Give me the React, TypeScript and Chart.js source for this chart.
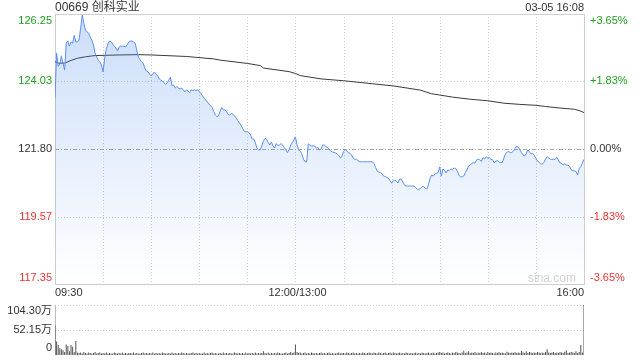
import React, { useEffect, useRef } from 'react';
import { Chart, registerables } from 'chart.js';

Chart.register(...registerables);

const FONT = '"Liberation Sans", Arial, "Noto Sans CJK SC", sans-serif';

const titleText = '00669 创科实业';
const dateText = '03-05 16:08';
const prevClose = 121.8;

const yTickValues = [126.25, 124.03, 121.8, 119.57, 117.35];
const yTickLabels = ['126.25', '124.03', '121.80', '119.57', '117.35'];
const pctTickLabels = ['+3.65%', '+1.83%', '0.00%', '-1.83%', '-3.65%'];

const timeGridMinutes = [0, 30, 60, 90, 120, 150, 180, 210, 240, 270, 300, 330];
const timeLabelMinutes = [0, 150, 330];
const timeLabels = ['09:30', '12:00/13:00', '16:00'];

const volTickValues = [104.3, 52.15, 0];
const volTickLabels = ['104.30万', '52.15万', '0'];

// price per minute (index = minutes since 09:30, lunch break removed)
const prices = [
  123.48, 124.96, 124.53, 124.6, 124.87, 124.63, 124.4, 125.29, 125.36, 125.19,
  125.33, 125.29, 125.55, 125.33, 125.33, 125.39, 125.79, 126.22, 125.95, 125.72,
  125.66, 125.62, 125.49, 125.39, 125.23, 124.96, 124.83, 124.73, 124.67, 124.57,
  124.34, 124.8, 125.1, 125.26, 125.36, 125.34, 125.26, 125.19, 125.13, 125.03,
  125.16, 125.19, 125.19, 125.19, 125.16, 125.23, 125.33, 125.36, 125.36, 125.33,
  125.29, 125.06, 124.83, 124.75, 124.67, 124.63, 124.47, 124.37, 124.34, 124.27,
  124.21, 124.27, 124.34, 124.27, 124.21, 124.11, 124.07, 124.04, 123.98, 123.93,
  123.98, 124.07, 124.17, 123.88, 123.91, 123.81, 123.86, 123.81, 123.78, 123.8,
  123.75, 123.68, 123.75, 123.71, 123.66, 123.75, 123.73, 123.75, 123.73, 123.75,
  123.69, 123.63, 123.55, 123.48, 123.42, 123.35, 123.28, 123.23, 123.17, 123.04,
  122.92, 122.87, 122.89, 123.05, 123.17, 123.09, 123.09, 123.04, 122.94, 122.92,
  122.97, 122.95, 122.89, 122.82, 122.74, 122.66, 122.59, 122.48, 122.39, 122.37,
  122.37, 122.34, 122.26, 122.13, 122.13, 122.0, 121.82, 121.77, 121.77, 121.9,
  122.06, 122.15, 122.12, 122.01, 121.93, 122.03, 121.9, 121.83, 121.98, 121.92,
  121.93, 121.98, 121.93, 121.85, 121.77, 121.68, 121.78, 121.93, 122.01, 122.1,
  122.2, 121.93, 121.77, 121.73, 121.64, 121.47, 121.38, 121.38, 121.97, 121.93,
  121.9, 121.9, 121.9, 121.83, 121.85, 121.77, 121.8, 121.93, 121.93, 121.88,
  121.85, 121.8, 121.73, 121.7, 121.69, 121.67, 121.64, 121.59, 121.5, 121.55,
  121.72, 121.78, 121.74, 121.68, 121.66, 121.6, 121.5, 121.46, 121.46, 121.42,
  121.38, 121.38, 121.38, 121.38, 121.38, 121.38, 121.38, 121.38, 121.38, 121.32,
  121.19, 121.07, 121.04, 121.02, 120.99, 120.91, 120.89, 120.87, 120.83, 120.76,
  120.67, 120.75, 120.78, 120.73, 120.68, 120.81, 120.81, 120.71, 120.61, 120.58,
  120.58, 120.58, 120.58, 120.58, 120.58, 120.53, 120.47, 120.47, 120.5, 120.56,
  120.56, 120.5, 120.48, 120.63, 120.84, 120.94, 120.91, 120.98, 121.0, 121.02,
  121.21, 120.91, 121.14, 121.09, 121.01, 121.11, 121.09, 121.14, 121.12, 121.17,
  121.16, 121.07, 120.94, 120.88, 120.88, 120.91, 121.03, 121.11, 121.24, 121.27,
  121.33, 121.35, 121.33, 121.44, 121.46, 121.44, 121.39, 121.52, 121.47, 121.54,
  121.5, 121.52, 121.45, 121.45, 121.34, 121.4, 121.42, 121.37, 121.35, 121.35,
  121.5, 121.64, 121.7, 121.72, 121.68, 121.69, 121.73, 121.82, 121.9, 121.86,
  121.77, 121.68, 121.6, 121.57, 121.65, 121.77, 121.7, 121.64, 121.66, 121.59,
  121.49, 121.4, 121.36, 121.31, 121.3, 121.36, 121.47, 121.54, 121.51, 121.46,
  121.46, 121.46, 121.46, 121.53, 121.44, 121.34, 121.33, 121.27, 121.31, 121.27,
  121.27, 121.23, 121.12, 121.08, 121.08, 121.06, 120.94, 121.16, 121.22, 121.34,
  121.46,
];

// average price line, read at selected minutes
const avgMinutes = [0, 2, 6, 10, 14, 19, 25, 40, 52, 60, 82, 99, 103, 120, 128, 130, 146, 150, 153, 166, 180, 198, 211, 228, 235, 240, 248, 259, 270, 280, 290, 300, 306, 315, 324, 328, 330];
const avgPrices = [124.68, 124.63, 124.63, 124.72, 124.79, 124.84, 124.88, 124.9, 124.91, 124.9, 124.85, 124.77, 124.73, 124.62, 124.55, 124.47, 124.35, 124.29, 124.22, 124.11, 124.05, 123.95, 123.88, 123.74, 123.62, 123.58, 123.51, 123.44, 123.39, 123.31, 123.27, 123.24, 123.2, 123.15, 123.11, 123.05, 123.0];

// volume per minute, 万 shares
const volumes = [
  62, 28, 21, 14, 12, 10, 6, 22, 19, 8, 21, 17, 6, 29, 5,
  4, 5, 3, 6, 4, 3, 5, 4, 3, 4, 6, 3, 4, 5, 3,
  4, 3, 5, 3, 4, 3, 3, 5, 4, 3, 4, 3, 5, 3, 4,
  3, 4, 4, 3, 5, 3, 4, 3, 3, 4, 5, 3, 4, 3, 4,
  3, 5, 3, 4, 3, 4, 3, 5, 4, 3, 3, 4, 3, 5, 3,
  4, 3, 4, 3, 5, 4, 3, 4, 3, 3, 4, 5, 3, 4, 3,
  4, 3, 3, 5, 3, 4, 3, 4, 5, 3, 4, 3, 3, 4, 3,
  5, 3, 4, 3, 4, 3, 3, 5, 4, 3, 4, 3, 4, 3, 5,
  3, 4, 3, 4, 3, 5, 3, 4, 3, 4, 8, 4, 3, 5, 3,
  4, 3, 4, 3, 5, 4, 3, 3, 4, 5, 3, 4, 6, 4, 5,
  22, 6, 4, 5, 3, 4, 5, 3, 4, 3, 5, 4, 3, 4, 3,
  4, 5, 3, 4, 3, 4, 5, 3, 4, 3, 3, 4, 5, 3, 4,
  4, 3, 5, 4, 3, 4, 5, 3, 4, 3, 4, 3, 5, 4, 3,
  4, 5, 4, 3, 5, 4, 3, 5, 4, 3, 4, 5, 3, 4, 5,
  3, 5, 4, 3, 4, 5, 3, 4, 3, 5, 4, 3, 4, 3, 4,
  5, 3, 4, 3, 5, 4, 3, 4, 5, 3, 4, 5, 3, 4, 5,
  6, 4, 5, 3, 4, 5, 4, 3, 5, 4, 6, 5, 4, 3, 5,
  9, 4, 5, 8, 4, 5, 4, 6, 3, 5, 4, 6, 4, 5, 3,
  6, 4, 5, 4, 3, 5, 4, 6, 4, 5, 4, 3, 7, 5, 4,
  5, 4, 6, 4, 5, 4, 9, 5, 4, 8, 4, 6, 5, 4, 5,
  4, 6, 5, 4, 5, 4, 6, 12, 5, 4, 5, 6, 4, 5, 4,
  6, 5, 4, 7, 10, 4, 5, 6, 5, 4, 8, 4, 6, 21, 5,
  104.3,
];

const GREEN = '#21a121';
const RED = '#f03232';
const DARK = '#333333';

function labelColor(v: number) {
  if (Math.abs(v - prevClose) < 1e-6) return DARK;
  return v > prevClose ? GREEN : RED;
}

function hLine(ctx: CanvasRenderingContext2D, x1: number, x2: number, y: number) {
  ctx.beginPath();
  ctx.moveTo(x1, y);
  ctx.lineTo(x2, y);
  ctx.stroke();
}
function vLine(ctx: CanvasRenderingContext2D, x: number, y1: number, y2: number) {
  ctx.beginPath();
  ctx.moveTo(x, y1);
  ctx.lineTo(x, y2);
  ctx.stroke();
}

const mainDeco = {
  id: 'mainDeco',
  beforeDatasetsDraw(chart: any) {
    const { ctx, chartArea: a, scales } = chart;
    const xs = scales.x;
    const ys = scales.y;
    ctx.save();
    ctx.lineWidth = 1;
    ctx.strokeStyle = '#cccccc';
    ctx.setLineDash([1, 2]);
    timeGridMinutes.forEach((m) => {
      if (m === timeGridMinutes[0] || m === timeGridMinutes[timeGridMinutes.length - 1]) return;
      const px = Math.round(xs.getPixelForValue(m)) + 0.5;
      vLine(ctx, px, a.top, a.bottom);
    });
    yTickValues.forEach((v, i) => {
      if (i === 0 || i === yTickValues.length - 1) return;
      const py = Math.round(ys.getPixelForValue(v)) + 0.5;
      if (Math.abs(v - prevClose) < 1e-6) {
        ctx.strokeStyle = '#a8a8a8';
        ctx.setLineDash([4, 2, 1, 2]);
      } else {
        ctx.strokeStyle = '#cccccc';
        ctx.setLineDash([1, 2]);
      }
      hLine(ctx, a.left, a.right, py);
    });
    ctx.setLineDash([]);
    ctx.strokeStyle = '#cfcfcf';
    const l = Math.round(a.left) + 0.5;
    const r = Math.round(a.right) + 0.5;
    const t = Math.round(a.top) + 0.5;
    const b = Math.round(a.bottom) + 0.5;
    ctx.strokeRect(l, t, r - l, b - t);
    ctx.restore();
  },
  afterDraw(chart: any) {
    const { ctx, chartArea: a, scales } = chart;
    const xs = scales.x;
    const ys = scales.y;
    ctx.save();
    ctx.textBaseline = 'middle';
    ctx.font = `12px ${FONT}`;
    ctx.fillStyle = DARK;
    ctx.textAlign = 'left';
    ctx.fillText(titleText, a.left, 7.5);
    ctx.font = `11px ${FONT}`;
    ctx.textAlign = 'right';
    ctx.fillText(dateText, a.right, 7.5);

    yTickValues.forEach((v, i) => {
      let py = ys.getPixelForValue(v);
      if (i === 0) py += 6.5;
      if (i === yTickValues.length - 1) py -= 6.5;
      ctx.fillStyle = labelColor(v);
      ctx.textAlign = 'right';
      ctx.fillText(yTickLabels[i], a.left - 3, py);
      ctx.textAlign = 'left';
      ctx.fillText(pctTickLabels[i], a.right + 6, py);
    });

    ctx.fillStyle = DARK;
    timeLabelMinutes.forEach((m, i) => {
      const px = xs.getPixelForValue(m);
      if (i === 0) ctx.textAlign = 'left';
      else if (i === timeLabelMinutes.length - 1) ctx.textAlign = 'right';
      else ctx.textAlign = 'center';
      ctx.fillText(timeLabels[i], px + (ctx.textAlign === 'center' ? 2 : 0), a.bottom + 8.5);
    });

    ctx.font = `12px ${FONT}`;
    ctx.fillStyle = '#d2d2d2';
    ctx.textAlign = 'center';
    ctx.fillText('sina.com', a.right - 32, a.bottom - 5);
    ctx.restore();
  },
};

const volDeco = {
  id: 'volDeco',
  beforeDatasetsDraw(chart: any) {
    const { ctx, chartArea: a, scales } = chart;
    const ys = scales.y;
    ctx.save();
    ctx.lineWidth = 1;
    ctx.strokeStyle = '#cccccc';
    ctx.setLineDash([1, 2]);
    volTickValues.forEach((v, i) => {
      if (i === volTickValues.length - 1) return;
      const py = Math.round(ys.getPixelForValue(v)) + 0.5;
      hLine(ctx, a.left, a.right, py);
    });
    ctx.setLineDash([]);
    ctx.strokeStyle = '#bdbdbd';
    vLine(ctx, Math.round(a.left) + 0.5, a.top, a.bottom);
    ctx.restore();
  },
  afterDraw(chart: any) {
    const { ctx, chartArea: a, scales } = chart;
    const ys = scales.y;
    ctx.save();
    ctx.font = `11px ${FONT}`;
    ctx.textBaseline = 'middle';
    ctx.textAlign = 'right';
    ctx.fillStyle = DARK;
    volTickValues.forEach((v, i) => {
      let py = ys.getPixelForValue(v);
      if (i === 0) py += 6;
      if (i === volTickValues.length - 1) py -= 7;
      ctx.fillText(volTickLabels[i], a.left - 3, py);
    });
    ctx.restore();
  },
};

export default function App() {
  const mainRef = useRef<HTMLCanvasElement | null>(null);
  const volRef = useRef<HTMLCanvasElement | null>(null);

  useEffect(() => {
    if (!mainRef.current || !volRef.current) return;
    const priceData = prices.map((p, i) => ({ x: i, y: p }));
    const avgData = avgMinutes.map((m, i) => ({ x: m, y: avgPrices[i] }));
    const volData = volumes.map((v, i) => ({ x: i, y: v }));

    const main = new Chart(mainRef.current, {
      type: 'line',
      data: {
        datasets: [
          {
            data: priceData,
            borderColor: '#5a8ff0',
            borderWidth: 1,
            pointRadius: 0,
            tension: 0,
            fill: 'start',
            backgroundColor: (c: any) => {
              const chart = c.chart;
              const a = chart.chartArea;
              if (!a) return 'rgba(0,0,0,0)';
              const g = chart.ctx.createLinearGradient(0, a.top, 0, a.bottom);
              g.addColorStop(0, 'rgba(70,135,235,0.28)');
              g.addColorStop(1, 'rgba(70,135,235,0.0)');
              return g;
            },
          },
          {
            data: avgData,
            borderColor: '#3a3a3a',
            borderWidth: 1,
            pointRadius: 0,
            tension: 0,
            fill: false,
          },
        ],
      },
      options: {
        animation: false,
        responsive: false,
        maintainAspectRatio: false,
        devicePixelRatio: 1,
        layout: { padding: { left: 55, right: 56, top: 14, bottom: 16 } },
        plugins: { legend: { display: false }, tooltip: { enabled: false } },
        scales: {
          x: { type: 'linear', min: 0, max: 330, display: false },
          y: { type: 'linear', min: 117.35, max: 126.25, display: false },
        },
      },
      plugins: [mainDeco],
    } as any);

    const vol = new Chart(volRef.current, {
      type: 'bar',
      data: {
        datasets: [
          {
            data: volData,
            backgroundColor: '#555555',
            barThickness: 1,
            inflateAmount: 0,
            borderWidth: 0,
          },
        ],
      },
      options: {
        animation: false,
        responsive: false,
        maintainAspectRatio: false,
        devicePixelRatio: 1,
        layout: { padding: { left: 55, right: 56, top: 5, bottom: 5 } },
        plugins: { legend: { display: false }, tooltip: { enabled: false } },
        scales: {
          x: { type: 'linear', min: 0, max: 330, display: false, offset: false },
          y: { type: 'linear', min: 0, max: 104.3, display: false },
        },
      },
      plugins: [volDeco],
    } as any);

    return () => {
      main.destroy();
      vol.destroy();
    };
  }, []);

  return (
    <div style={{ position: 'fixed', left: 0, top: 0, width: 640, height: 360, background: '#fff' }}>
      <canvas ref={mainRef} width={640} height={300} style={{ display: 'block', width: 640, height: 300 }} />
      <canvas ref={volRef} width={640} height={60} style={{ display: 'block', width: 640, height: 60 }} />
    </div>
  );
}
